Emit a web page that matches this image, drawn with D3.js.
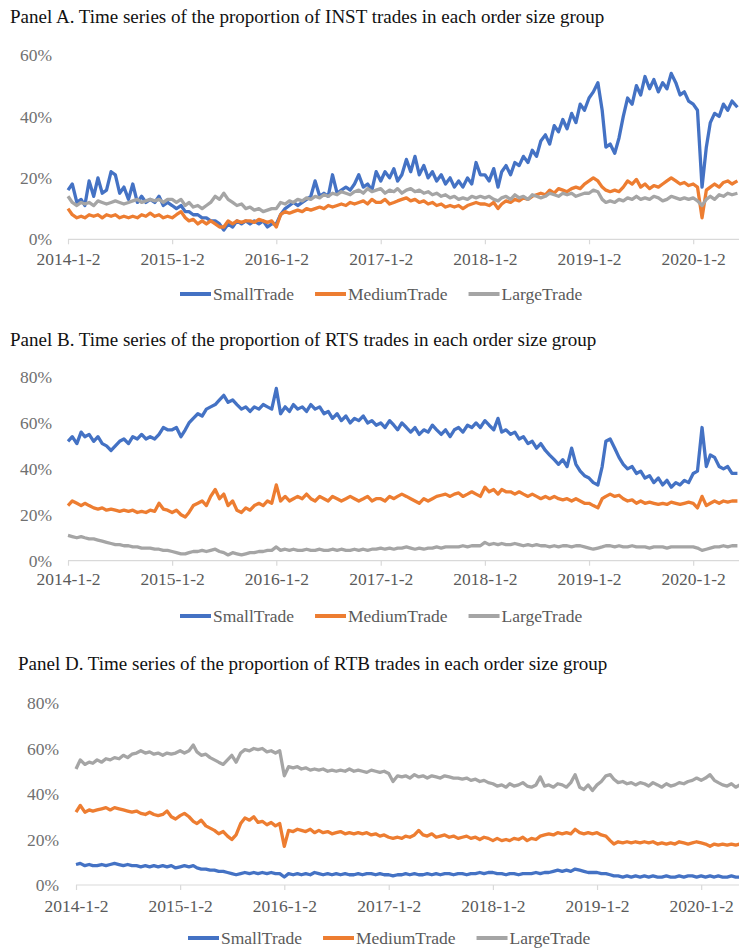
<!DOCTYPE html>
<html>
<head>
<meta charset="utf-8">
<script src="https://cdn.jsdelivr.net/npm/d3@7"></script>
<style>
  body { margin: 0; background: #fff; }
  svg text { font-family: "Liberation Serif", "Times New Roman", serif; }
</style>
</head>
<body>
<svg id="chart" width="739" height="949"></svg>
<script>
// ---- data: semi-monthly readings (2nd and 17th of each month), Jan 2014 .. May 2020, plus 2020-06-05 ----
const dates = [];
d3.timeMonth.range(new Date(2014, 0, 1), new Date(2020, 5, 1)).forEach(m => {
  dates.push(d3.timeDay.offset(m, 1), d3.timeDay.offset(m, 16));
});
dates.push(new Date(2020, 5, 5));

const seriesNames = ["SmallTrade", "MediumTrade", "LargeTrade"];
const seriesColors = ["#4472C4", "#ED7D31", "#A5A5A5"];
const yearTicks = [2014, 2015, 2016, 2017, 2018, 2019, 2020];

// Panel A: INST
const instSmall = [
  16, 18, 12, 13, 11, 19, 14, 20, 15, 16, 22, 21, 15, 17, 13, 18, 12, 14, 12, 13, 12, 14, 11, 12,
  11, 10, 11, 9, 9, 8, 8, 7, 7, 6, 6, 5, 3, 5, 4, 6, 5, 6, 5, 6, 5, 6, 4, 5,
  5, 8, 10, 11, 12, 11, 12, 13, 14, 19, 14, 15, 14, 21, 15, 16, 17, 16, 18, 21, 17, 18, 16, 22,
  19, 22, 20, 23, 19, 21, 26, 22, 27, 21, 24, 20, 22, 19, 21, 18, 20, 17, 19, 17, 20, 18, 25, 21,
  21, 19, 23, 17, 22, 24, 21, 25, 24, 27, 25, 29, 27, 32, 34, 31, 37, 35, 39, 36, 41, 38, 44, 42,
  46, 48, 51, 42, 30, 31, 28, 33, 40, 46, 44, 50, 47, 53, 49, 52, 48, 51, 49, 54, 51, 47, 48, 45,
  44, 42, 17, 30, 38, 41, 40, 44, 42, 45, 43
];
const instMedium = [
  10, 8, 7, 7.5, 7, 8, 7.5, 8, 7, 8, 7.5, 8, 7, 7.5, 7, 7.5, 7, 8, 7.5, 8.5, 7.5, 8, 7, 7.5,
  7, 8, 9, 7, 6, 6.5, 5, 6, 5, 6, 5, 4, 4, 6, 5, 6, 5.5, 6, 6, 5.5, 6.5, 6, 5.5, 6,
  4, 8, 9, 8.5, 9, 9.5, 9, 10, 9.5, 10, 10.5, 10, 11, 10.5, 11, 11.5, 11, 12, 11.5, 12, 12.5, 11.5, 13, 12,
  12, 13, 11.5, 12, 12.5, 13, 13.5, 12.5, 13, 12, 12.5, 11.5, 12, 11, 11.5, 10.5, 11, 10.5, 11, 10, 11, 11.5, 12, 11.5,
  11.5, 11, 12, 10, 11.5, 12.5, 12, 13, 12.5, 13.5, 13, 14, 14.5, 15, 14.5, 16, 15, 16.5, 16, 15.5, 16.5, 17, 16.5, 18,
  19, 20, 19, 17, 16, 15.5, 16, 15.5, 17, 19, 18, 19.5, 17, 18, 16.5, 17.5, 17, 18, 19, 20, 19, 18, 18.5, 17.5,
  18, 17, 7, 16, 17, 18, 17, 18.5, 19, 18, 19
];
const instLarge = [
  14, 12, 11, 12, 11.5, 12, 11, 12.5, 12, 11.5, 12, 12.5, 12, 11.5, 12, 12.5, 13, 12, 12.5, 13, 12.5, 13, 12, 13,
  13, 12, 13, 11, 12, 10.5, 11, 10, 11, 12, 14, 13, 15, 13, 12, 11, 11.5, 10, 10.5, 9.5, 10, 9, 9.5, 10,
  10, 12, 11.5, 12.5, 12, 13, 12.5, 13.5, 13, 14, 13.5, 14.5, 14, 15, 14.5, 15.5, 15, 14.5, 15.5, 16, 15, 16.5, 15.5, 16,
  16.5, 15, 16, 15.5, 16.5, 15, 16, 16.5, 15.5, 16, 15, 15.5, 14.5, 15, 14, 14.5, 13.5, 14, 13, 13.5, 13, 14, 13.5, 14,
  13.5, 14, 13, 12.5, 13.5, 14, 13, 14.5, 13.5, 14, 13, 14.5, 14, 13.5, 14, 15, 14.5, 14, 15, 14.5, 15, 14, 14.5, 15,
  15, 16, 15.5, 13, 12, 12.5, 12, 13, 12.5, 13.5, 13, 14, 13, 13.5, 13, 14, 13.5, 12.5, 13, 14, 13.5, 13, 13.5, 13,
  13.5, 12.5, 11, 13, 14, 13, 14.5, 14, 15, 14.5, 15
];

// Panel B: RTS
const rtsSmall = [
  52, 54, 51, 56, 54, 55, 52, 54, 51, 50, 48, 50, 52, 53, 51, 54, 53, 55, 53, 54, 53, 55, 58, 57,
  57, 58, 54, 57, 60, 62, 64, 63, 66, 67, 68, 70, 72, 69, 70, 68, 66, 67, 65, 67, 66, 68, 67, 66,
  75, 64, 67, 65, 68, 66, 67, 65, 68, 66, 67, 64, 65, 62, 64, 61, 63, 60, 62, 61, 63, 60, 61, 59,
  60, 58, 61, 59, 57, 60, 58, 56, 58, 55, 57, 56, 59, 57, 55, 57, 54, 57, 58, 56, 59, 58, 60, 58,
  61, 59, 57, 62, 56, 57, 55, 56, 53, 54, 51, 52, 49, 51, 48, 46, 44, 42, 44, 41, 49, 42, 39, 37,
  36, 34, 33, 41, 52, 53, 49, 45, 42, 40, 41, 38, 39, 36, 37, 34, 36, 33, 35, 32, 34, 33, 35, 34,
  38, 39, 58, 41, 46, 45, 41, 40, 41, 38, 38
];
const rtsMedium = [
  24, 26, 25, 24, 25, 24, 23, 22.5, 23, 22, 22.5, 22, 21.5, 22, 21.5, 22, 21, 21.5, 21, 22, 21.5, 25, 22.5, 22,
  21, 22, 20, 19, 21, 24, 25, 26, 24, 28, 31, 27, 29, 24, 26, 22, 21, 23, 22, 24, 25, 24, 26, 25,
  33, 26, 28, 26, 27, 28, 27, 29, 27, 26, 28, 27, 26, 28, 27, 26, 27, 28, 27, 26, 27, 28, 26, 27,
  27, 26, 28, 27, 28, 29, 28, 27, 26, 25, 27, 26, 27, 28, 28.5, 29, 28, 29, 29.5, 28, 29, 30, 29, 28,
  32, 30, 31, 29, 31, 30, 30, 29, 30, 29, 28, 29, 28, 27, 28, 27, 28, 27, 26.5, 27, 26, 27, 26, 25,
  25, 24, 23, 27, 28, 29, 28, 28.5, 27, 26, 26.5, 25, 26, 25, 25.5, 25, 24.5, 25, 24.5, 25.5, 25, 24.5, 25, 25.5,
  25, 23, 28, 24, 25, 26, 25, 26, 25.5, 26, 26
];
const rtsLarge = [
  11, 10.5, 10, 10.5, 10, 9.5, 9.5, 9, 8.5, 8, 7.5, 7, 7, 6.5, 6.5, 6, 6, 5.5, 5.5, 5.5, 5, 5, 4.5, 4.5,
  4, 3.5, 3, 3, 3.5, 4, 4, 4.5, 4, 4.5, 5, 4, 3.5, 2.5, 3.5, 3, 2.5, 3, 3.5, 3.5, 4, 4, 4.5, 4.5,
  6, 4.5, 5, 4.5, 5, 4.5, 4.5, 5, 4.5, 4.5, 5, 4.5, 4.5, 5, 4.5, 5, 4.5, 4.5, 5, 4.5, 5, 4.5, 5, 5,
  5.5, 5, 5.5, 5, 5.5, 5.5, 6, 5.5, 5, 5.5, 5, 5.5, 5.5, 6, 5.5, 6, 6, 6, 6, 6.5, 6, 6.5, 6.5, 6.5,
  8, 7, 7.5, 7, 7.5, 7, 7, 7.5, 7, 6.5, 7, 6.5, 7, 6.5, 6.5, 6, 6.5, 6, 6.5, 6.5, 6, 6.5, 6.5, 6,
  5.5, 5, 5.5, 6, 6.5, 6.5, 6, 6.5, 6, 6, 6.5, 6, 6, 6, 5.5, 6, 6, 6, 5.5, 6, 6, 6, 6, 6,
  6, 5.5, 4.5, 5, 5.5, 6, 6, 6.5, 6, 6.5, 6.5
];

// Panel D: RTB
const rtbSmall = [
  9, 9.5, 8.5, 9, 8.5, 8.5, 9, 8.5, 9, 9.5, 9, 8.5, 9, 8.5, 8.5, 8, 8.5, 8, 8.5, 8, 8.5, 8, 8.5, 7.5,
  8, 8.5, 8, 8.5, 7.5, 7, 7, 6.5, 6.5, 6, 6, 5.5, 5, 4.5, 5, 5.5, 5, 5.5, 5, 5.5, 5, 5.5, 5, 5,
  3.5, 5, 4.5, 5, 4.5, 5, 4.5, 5.5, 5, 4.5, 5, 4.5, 5, 4.5, 5, 4.5, 4.5, 5, 4.5, 5, 5, 4.5, 5, 4.5,
  4.5, 4, 4.5, 4.5, 5, 4.5, 5, 4.5, 4.5, 5, 4.5, 5, 4.5, 5, 5, 4.5, 5, 5, 4.5, 5, 5, 5.5, 5, 5.5,
  5.5, 5, 5, 4.5, 5, 5, 4.5, 5, 5, 5, 5.5, 5, 5.5, 5.5, 6, 6.5, 6, 6.5, 6, 7, 6.5, 6, 5.5, 5.5,
  5.5, 5, 5, 4.5, 4, 4, 3.5, 4, 3.5, 4, 3.5, 4, 3.5, 4, 3.5, 3.5, 4, 3.5, 3.5, 4, 3.5, 4, 4, 3.5,
  4, 3.5, 4, 3.5, 4, 3.5, 3.5, 4, 3.5, 3.5, 3.5
];
const rtbMedium = [
  32, 35, 32, 33, 32.5, 33, 33.5, 34, 33, 34, 33.5, 33, 32.5, 32, 32.5, 31.5, 31, 32, 31, 30.5, 31, 32.5, 30, 29,
  30.5, 31.5, 30, 28, 27, 28.5, 26, 25, 24, 22.5, 23.5, 21.5, 20, 22, 27, 29.5, 28.5, 30, 27.5, 28, 26.5, 27.5, 26, 27,
  17, 24, 23.5, 24.5, 24, 23.5, 24.5, 23, 24, 23, 23.5, 22.5, 23, 23.5, 22.5, 23, 22.5, 23, 22.5, 23, 22, 22.5, 21.5, 22,
  21, 20.5, 21, 20.5, 21.5, 21, 22, 24, 22, 21.5, 22.5, 21, 21.5, 22, 21, 21.5, 20.5, 21, 21.5, 20.5, 21, 20, 21, 20.5,
  19.5, 20.5, 19.5, 20, 19.5, 20.5, 20, 21, 19.5, 20.5, 20, 21.5, 22, 22.5, 22, 23, 22.5, 23, 22.5, 24.5, 23, 22.5, 23, 22.5,
  23, 22, 21.5, 19.5, 18, 19, 18.5, 19, 18.5, 19, 18.5, 19, 18.5, 19, 18, 18.5, 18, 18.5, 18, 19, 18.5, 18, 18.5, 19,
  18.5, 18, 17, 18, 17.5, 18, 17.5, 18, 17.5, 18, 18
];
const rtbLarge = [
  51, 55, 53, 54, 53.5, 55, 54, 55.5, 55, 56, 55.5, 57, 56, 57.5, 58, 59, 58, 58.5, 57.5, 58, 57, 58, 57.5, 58,
  59, 58, 59, 61.5, 58.5, 57, 57.5, 56, 55, 54, 53, 55, 57, 54, 58, 59.5, 59, 60, 59.5, 60, 58.5, 59, 58, 59,
  48, 52, 51.5, 52, 51, 51.5, 50.5, 51, 50.5, 51, 50, 50.5, 50, 50.5, 50, 51, 50, 50.5, 50, 49.5, 50.5, 50, 49.5, 50,
  49, 45.5, 48, 47.5, 48, 47, 48.5, 47.5, 48, 47, 48, 47.5, 47, 48, 47.5, 47, 47, 46.5, 47, 46, 46.5, 45.5, 46, 45,
  44.5, 43.5, 44, 43, 44.5, 43.5, 44, 45, 43.5, 43, 44, 47.5, 43.5, 44, 43, 44.5, 44, 43, 45, 48.5, 43, 42, 44, 41.5,
  44, 45.5, 48, 48.5, 46.5, 45, 45.5, 44.5, 45, 44, 45, 44.5, 43.5, 45, 44, 43, 44.5, 43.5, 44, 45, 44.5, 45.5, 46, 47,
  46, 47, 48.5, 46, 45, 44, 43.5, 44.5, 43, 44, 43.5
];

// ---- panel layout ----
const panels = [
  {
    title: "Panel A. Time series of the proportion of INST trades in each order size group",
    series: [instSmall, instMedium, instLarge], yTicks: [0, 20, 40, 60],
    titleX: 10, titleY: 23, left: 68, yBottom: 239.3, yTop: 55, labelRight: 52,
    xLabelOff: 20, legendX: 180, legendY: 294
  },
  {
    title: "Panel B. Time series of the proportion of RTS trades in each order size group",
    series: [rtsSmall, rtsMedium, rtsLarge], yTicks: [0, 20, 40, 60, 80],
    titleX: 10, titleY: 346, left: 68, yBottom: 560.7, yTop: 377, labelRight: 52,
    xLabelOff: 19, legendX: 180, legendY: 616
  },
  {
    title: "Panel D. Time series of the proportion of RTB trades in each order size group",
    series: [rtbSmall, rtbMedium, rtbLarge], yTicks: [0, 20, 40, 60, 80],
    titleX: 18, titleY: 670, left: 76, yBottom: 885, yTop: 703, labelRight: 59,
    xLabelOff: 21.5, legendX: 188, legendY: 938
  }
];

const svg = d3.select("#chart");
const W = 739;
const yearPx = 104.2; // width of one year on the x axis
const fmt = d3.timeFormat("%Y-%-m-%-d");
const serif = "'Liberation Serif', 'Times New Roman', serif";

panels.forEach(p => {
  const g = svg.append("g");

  // title
  g.append("text")
    .attr("x", p.titleX)
    .attr("y", p.titleY)
    .style("font-family", serif)
    .style("font-size", "19px")
    .style("fill", "#111")
    .text(p.title);

  const x = d3.scaleTime()
    .domain([new Date(2014, 0, 2), new Date(2020, 0, 2)])
    .range([p.left, p.left + yearPx * 6]);
  const y = d3.scaleLinear()
    .domain([0, d3.max(p.yTicks)])
    .range([p.yBottom, p.yTop]);

  // y labels (no axis line, no grid)
  const yAxis = g.append("g")
    .attr("transform", `translate(${p.labelRight},0)`)
    .call(d3.axisLeft(y).tickValues(p.yTicks).tickSize(0).tickPadding(0).tickFormat(d => d + "%"));
  yAxis.select(".domain").remove();
  yAxis.selectAll("text")
    .attr("dy", "0.32em")
    .style("font-family", serif)
    .style("font-size", "17.5px")
    .style("fill", "#707070");

  // x axis
  const xAxis = g.append("g")
    .attr("transform", `translate(0,${y(0)})`)
    .call(d3.axisBottom(x)
      .tickValues(yearTicks.map(yr => new Date(yr, 0, 2)))
      .tickSize(5)
      .tickFormat(fmt));
  xAxis.select(".domain").remove();
  xAxis.append("line")
    .attr("x1", p.left).attr("x2", W)
    .attr("stroke", "#d9d9d9").attr("stroke-width", 1.2);
  xAxis.selectAll(".tick line").attr("stroke", "#d9d9d9").attr("stroke-width", 1.2);
  xAxis.selectAll("text")
    .attr("y", p.xLabelOff)
    .attr("dy", "0.32em")
    .style("font-family", serif)
    .style("font-size", "17.5px")
    .style("fill", "#5a5a5a");

  // series lines
  const line = d3.line()
    .x((d, i) => x(dates[i]))
    .y(d => y(d));
  p.series.forEach((vals, k) => {
    g.append("path")
      .datum(vals)
      .attr("d", line)
      .attr("fill", "none")
      .attr("stroke", seriesColors[k])
      .attr("stroke-width", 3.3)
      .attr("stroke-linejoin", "round");
  });

  // legend
  let lx = p.legendX;
  seriesNames.forEach((name, k) => {
    g.append("line")
      .attr("x1", lx).attr("x2", lx + 31)
      .attr("y1", p.legendY).attr("y2", p.legendY)
      .attr("stroke", seriesColors[k])
      .attr("stroke-width", 4);
    const t = g.append("text")
      .attr("x", lx + 33)
      .attr("y", p.legendY)
      .attr("dy", "0.32em")
      .style("font-family", serif)
      .style("font-size", "17.5px")
      .style("fill", "#5a5a5a")
      .text(name);
    lx += 33 + t.node().getComputedTextLength() + 21;
  });
});
</script>
</body>
</html>
